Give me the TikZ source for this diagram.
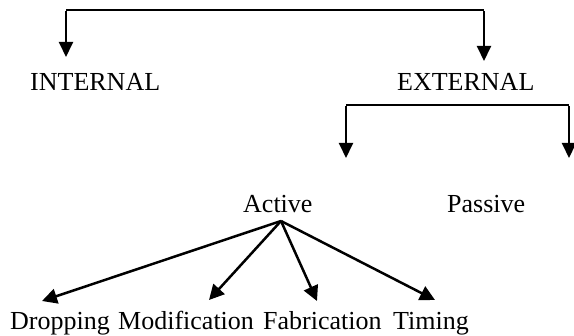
\documentclass[tikz,border=0pt]{standalone}
\usepackage{fontspec}
\setmainfont{Liberation Serif}
\usetikzlibrary{arrows.meta}
\begin{document}
\begin{tikzpicture}[x=1pt,y=-1pt,
  lbl/.style={anchor=base west,inner sep=0pt,font=\fontsize{26}{30}\selectfont},
  brk/.style={line width=2pt},
  arr/.style={line width=2pt,-{Triangle[length=15pt,width=14pt]}},
  arrb/.style={line width=2.5pt,-{Triangle[length=15pt,width=15pt]}}]
\useasboundingbox (0,0) rectangle (574,336);
% top bracket
\coordinate (t1) at (66,10);
\coordinate (t2) at (484,10);
\coordinate (t1e) at (66,57);
\coordinate (t2e) at (484,61);
\draw[brk] (t1) -- (t2);
\draw[arr] ([yshift=-1pt]t1) -- (t1e);
\draw[arr] ([yshift=-1pt]t2) -- (t2e);
\node[lbl] (int) at (30,91) {INTERNAL};
\node[lbl] (ext) at (397,91) {EXTERNAL};
% second bracket
\coordinate (s1) at (346,105);
\coordinate (s2) at (569,105);
\coordinate (s1e) at (346,158);
\coordinate (s2e) at (569,158);
\draw[brk] (s1) -- (s2);
\draw[arr] ([yshift=-1pt]s1) -- (s1e);
\draw[arr] ([yshift=-1pt]s2) -- (s2e);
\node[lbl] (act) at (243,213) {Active};
\node[lbl] (pas) at (447,213) {Passive};
% active branches
\coordinate (hub) at (281,221);
\node[lbl] (drop) at (10,330) {Dropping};
\node[lbl] (mod) at (118,330) {Modification};
\node[lbl] (fab) at (263,330) {Fabrication};
\node[lbl] (tim) at (393,330) {Timing};
\coordinate (d1) at (42,301);
\coordinate (d2) at (209,300);
\coordinate (d3) at (317,301);
\coordinate (d4) at (435,300);
\draw[arrb] (hub) -- (d1);
\draw[arrb] (hub) -- (d2);
\draw[arrb] (hub) -- (d3);
\draw[arrb] (hub) -- (d4);
\end{tikzpicture}
\end{document}
